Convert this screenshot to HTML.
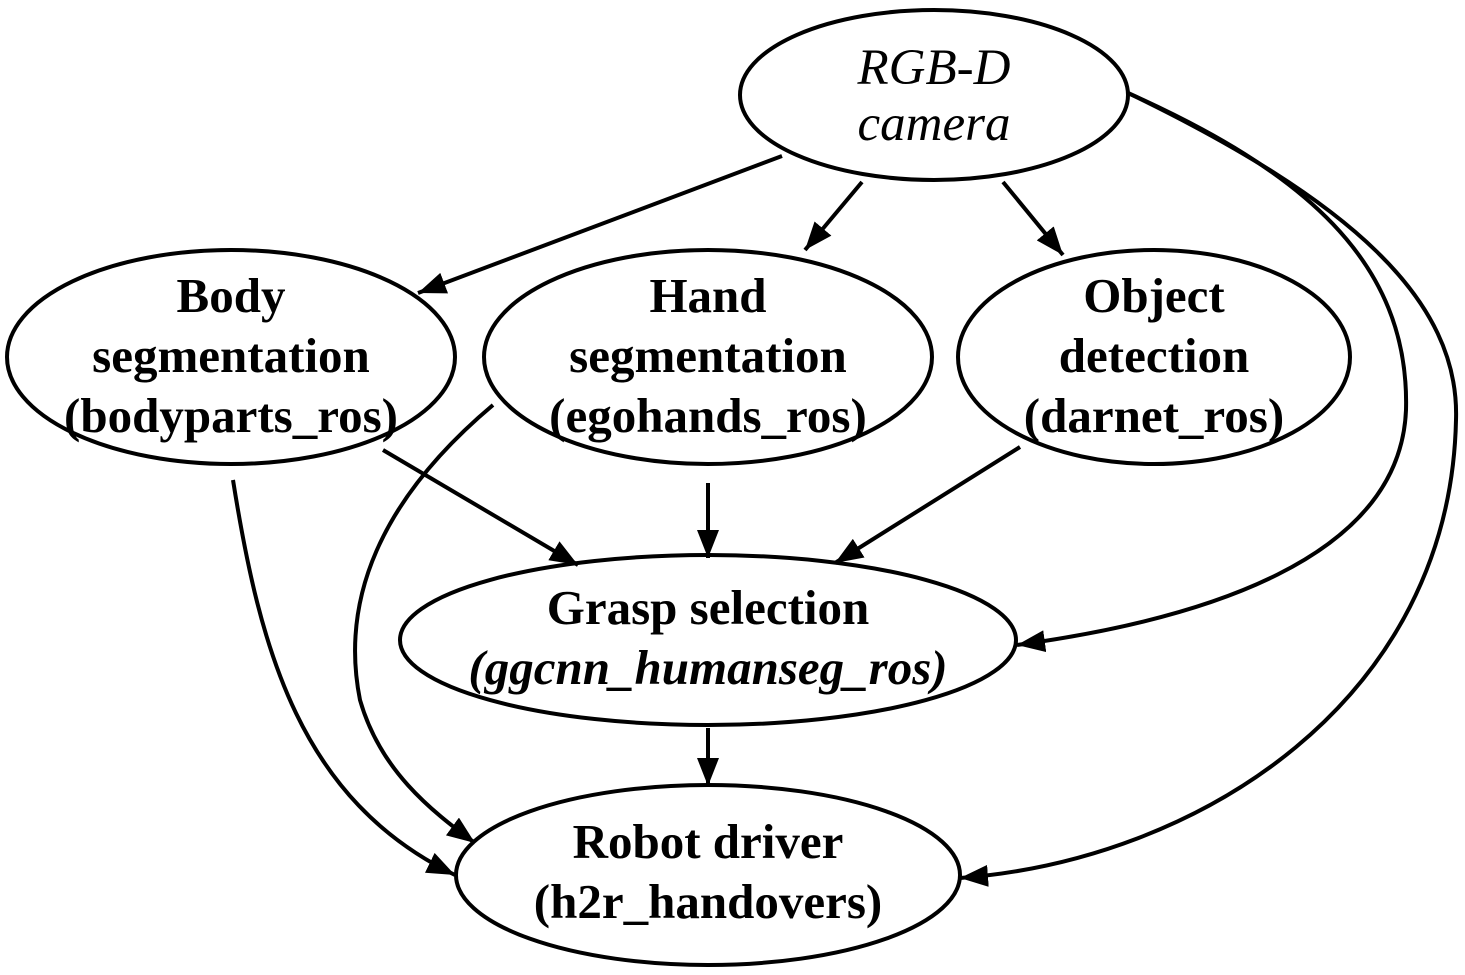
<!DOCTYPE html>
<html><head><meta charset="utf-8"><style>
html,body{margin:0;padding:0;background:#fff;}
svg{display:block;}
text{font-family:"Liberation Serif",serif;font-size:49px;font-weight:bold;text-anchor:middle;fill:#000;}
.it{font-style:italic;font-weight:normal;font-size:51px;}
.bi{font-style:italic;}
</style></head><body>
<svg width="1465" height="975" viewBox="0 0 1465 975" xmlns="http://www.w3.org/2000/svg">
<defs>
<marker id="a" markerUnits="userSpaceOnUse" markerWidth="30" markerHeight="22" refX="28" refY="11" orient="auto">
<path d="M0,0 L28,11 L0,22 Z" fill="#000"/>
</marker>
</defs>
<g fill="none" stroke="#000" stroke-width="4">
<ellipse cx="934" cy="95" rx="194" ry="85"/>
<ellipse cx="231" cy="357" rx="224" ry="107"/>
<ellipse cx="708" cy="357" rx="224" ry="107"/>
<ellipse cx="1154" cy="357" rx="196" ry="107"/>
<ellipse cx="708" cy="640" rx="308" ry="85"/>
<ellipse cx="708" cy="875" rx="252" ry="90"/>
</g>
<g fill="none" stroke="#000" stroke-width="4" marker-end="url(#a)">
<path d="M782,156 L418,293"/>
<path d="M862,182 L805,250"/>
<path d="M1003,182 L1063,255"/>
<path d="M1128,93 C1300,170 1410,260 1406,410 C1400,560 1200,620 1017,645"/>
<path d="M1128,93 C1350,200 1460,300 1456,420 C1450,700 1200,860 960,878"/>
<path d="M383,450 L578,565"/>
<path d="M708,483 L708,558"/>
<path d="M1020,447 L835,563"/>
<path d="M233,480 C260,650 300,800 455,875"/>
<path d="M493,405 C380,500 340,600 360,700 C380,770 430,810 475,843"/>
<path d="M708,728 L708,786"/>
</g>
<text class="it" x="934" y="84">RGB-D</text>
<text class="it" x="934" y="140">camera</text>
<text x="231" y="312">Body</text>
<text x="231" y="372">segmentation</text>
<text x="231" y="432">(bodyparts_ros)</text>
<text x="708" y="312">Hand</text>
<text x="708" y="372">segmentation</text>
<text x="708" y="432">(egohands_ros)</text>
<text x="1154" y="312">Object</text>
<text x="1154" y="372">detection</text>
<text x="1154" y="432">(darnet_ros)</text>
<text x="708" y="624">Grasp selection</text>
<text class="bi" x="708" y="684">(ggcnn_humanseg_ros)</text>
<text x="708" y="858">Robot driver</text>
<text x="708" y="918">(h2r_handovers)</text>
</svg>
</body></html>
